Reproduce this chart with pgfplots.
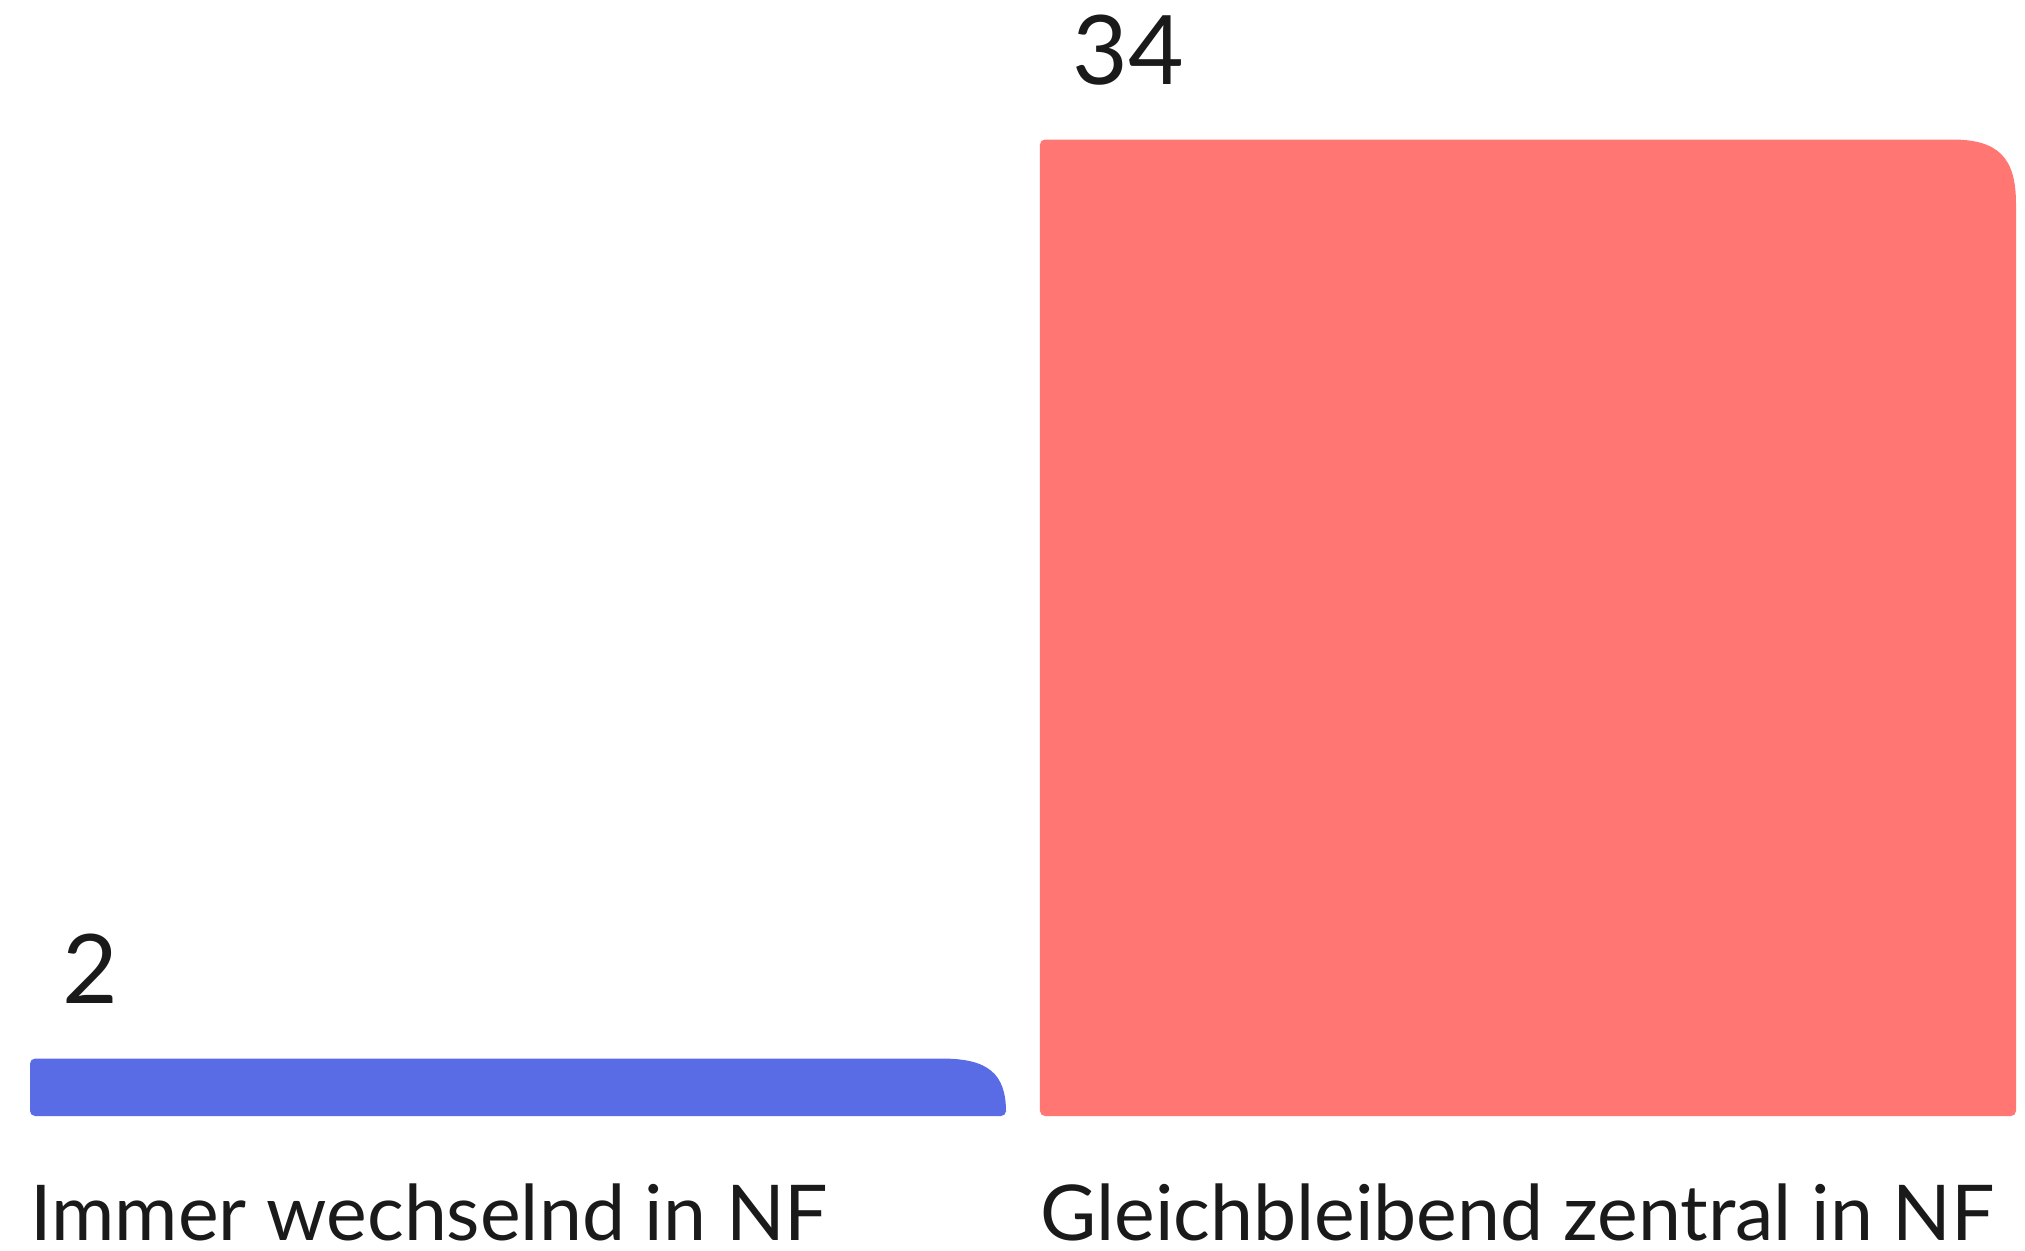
\documentclass[border=0pt]{standalone}
\usepackage{pgfplots}
\pgfplotsset{compat=1.18}
\usepackage{fontspec}
\setmainfont{Lato}
\definecolor{barblue}{RGB}{90,107,230}
\definecolor{barred}{RGB}{255,118,114}
\definecolor{txt}{RGB}{26,26,26}
\newdimen\bxa \newdimen\bya \newdimen\bxb \newdimen\byb
\newdimen\bRx \newdimen\bRy \newdimen\bKy \newdimen\btmp
\makeatletter
\newcommand\fancydraw{%
  \ifdim\bxa>\bxb \btmp=\bxa \bxa=\bxb \bxb=\btmp \fi
  \ifdim\bya>\byb \btmp=\bya \bya=\byb \byb=\btmp \fi
  \bRx=32pt \bRy=32pt
  \btmp=\byb \advance\btmp by -\bya \advance\btmp by -2pt
  \ifdim\bRy>\btmp \bRy=\btmp \fi
  \bKy=0.28\bRy
  \pgfpathmoveto{\pgfqpoint{\bxa}{\dimexpr\bya+2.5pt\relax}}%
  \pgfpathlineto{\pgfqpoint{\bxa}{\dimexpr\byb-2.5pt\relax}}%
  \pgfpathcurveto{\pgfqpoint{\bxa}{\dimexpr\byb-1.12pt\relax}}{\pgfqpoint{\dimexpr\bxa+1.12pt\relax}{\byb}}{\pgfqpoint{\dimexpr\bxa+2.5pt\relax}{\byb}}%
  \pgfpathlineto{\pgfqpoint{\dimexpr\bxb-\bRx\relax}{\byb}}%
  \pgfpathcurveto{\pgfqpoint{\dimexpr\bxb-9pt\relax}{\byb}}{\pgfqpoint{\bxb}{\dimexpr\byb-\bKy\relax}}{\pgfqpoint{\bxb}{\dimexpr\byb-\bRy\relax}}%
  \pgfpathlineto{\pgfqpoint{\bxb}{\dimexpr\bya+2.5pt\relax}}%
  \pgfpathcurveto{\pgfqpoint{\bxb}{\dimexpr\bya+1.12pt\relax}}{\pgfqpoint{\dimexpr\bxb-1.12pt\relax}{\bya}}{\pgfqpoint{\dimexpr\bxb-2.5pt\relax}{\bya}}%
  \pgfpathlineto{\pgfqpoint{\dimexpr\bxa+2.5pt\relax}{\bya}}%
  \pgfpathcurveto{\pgfqpoint{\dimexpr\bxa+1.12pt\relax}{\bya}}{\pgfqpoint{\bxa}{\dimexpr\bya+1.12pt\relax}}{\pgfqpoint{\bxa}{\dimexpr\bya+2.5pt\relax}}%
  \pgfpathclose
}
\newcommand\fancyrect[2]{%
  \pgf@process{#1}\bxa=\pgf@x \bya=\pgf@y
  \pgf@process{#2}\bxb=\pgf@x \byb=\pgf@y
  \fancydraw}
\newcommand\fancyrectsize[2]{%
  \pgf@process{#1}\bxa=\pgf@x \bya=\pgf@y
  \pgf@process{#2}\bxb=\pgf@x \byb=\pgf@y
  \advance\bxb by \bxa \advance\byb by \bya
  \fancydraw}
\makeatother
\begin{document}
\begin{tikzpicture}
\useasboundingbox (0,0) rectangle (1012.5pt,625pt);
\begin{axis}[
  at={(15pt,67pt)}, anchor=south west,
  scale only axis, width=993pt, height=488.25pt,
  xmin=-0.4832, xmax=1.4832, ymin=0, ymax=34,
  axis lines=none,
  ybar, bar width=488pt, bar shift=0pt,
  xtick={0,1}, ytick=\empty,
  clip=false,
  /pgf/number format/assume math mode=true,
  nodes near coords,
  every node near coord/.append style={font=\fontsize{48}{50}\selectfont, text=txt, anchor=base west, inner sep=0pt, xshift=-228pt, yshift=27.5pt},
]
\addplot[fill=barblue, draw=none, /utils/exec={\let\pgfpathrectanglecorners\fancyrect\let\pgfpathrectangle\fancyrectsize}] coordinates {(0,2)};
\addplot[fill=barred, draw=none, /utils/exec={\let\pgfpathrectanglecorners\fancyrect\let\pgfpathrectangle\fancyrectsize}] coordinates {(1,34)};
\node[anchor=base west, inner sep=0pt, font=\fontsize{38.5}{40}\selectfont, text=txt] at ([yshift=-62pt]axis cs:-0.4832,0) {Immer wechselnd in NF};
\node[anchor=base west, inner sep=0pt, font=\fontsize{38.5}{40}\selectfont, text=txt] at ([yshift=-62pt]axis cs:0.5168,0) {Gleichbleibend zentral in NF};
\end{axis}
\end{tikzpicture}
\end{document}
